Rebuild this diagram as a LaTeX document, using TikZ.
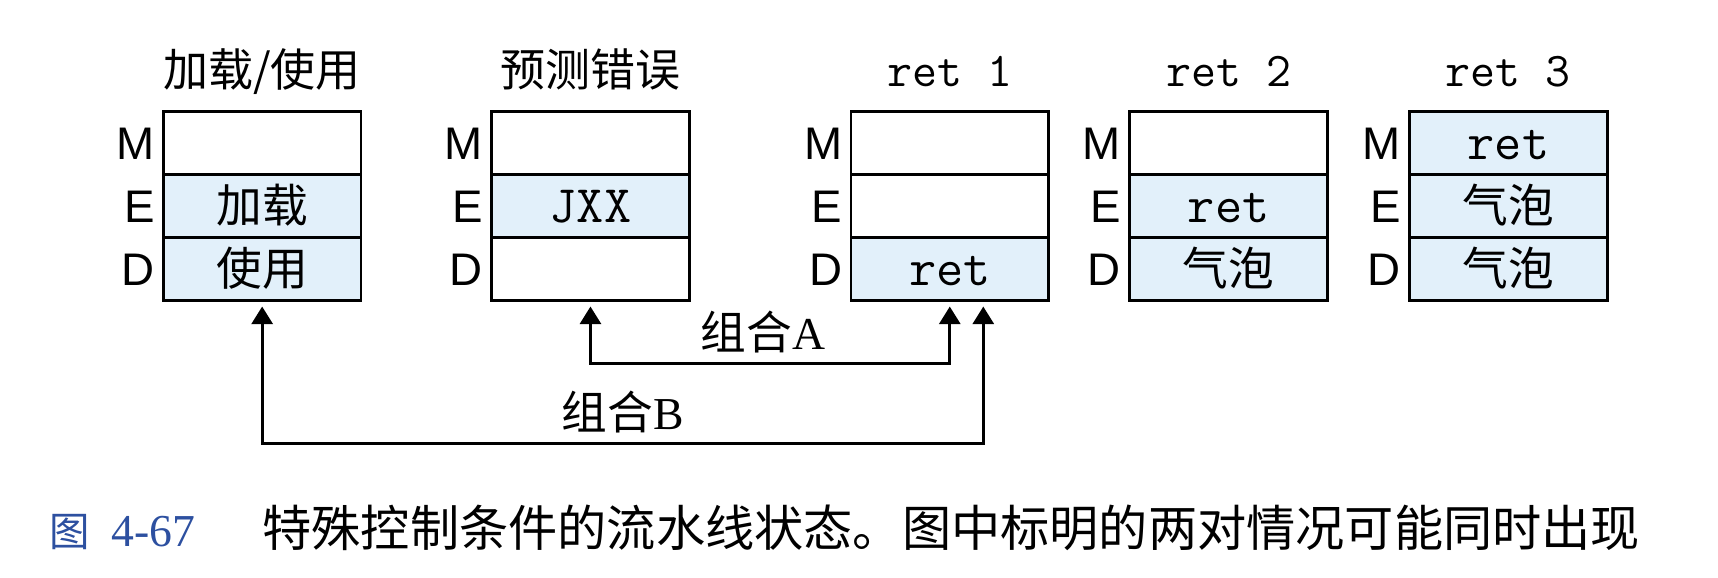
\documentclass[tikz,border=0pt]{standalone}
\usepackage{fontspec}
\setmainfont{Liberation Serif}
\newfontfamily\cjk{Noto Sans CJK SC}
\newfontfamily\sflbl{Liberation Sans}
\usetikzlibrary{shapes.multipart,arrows.meta,positioning}
\definecolor{mylightblue}{RGB}{226,240,250}
\definecolor{mycapblue}{RGB}{45,80,160}
\newcommand{\rowstrut}{\rule[-3.8pt]{0pt}{17.1pt}}
\newcommand{\instr}[1]{{\ttfamily\fontsize{15}{17}\selectfont #1}}
\newcommand{\instrtitle}[1]{{\ttfamily\fontsize{13.8}{16}\selectfont #1}}

\begin{document}
\begin{tikzpicture}[
  thick,
  >={Triangle[length=5pt,width=6pt]},
  mystage/.style={
    draw,
    rectangle split,
    rectangle split parts=3,
    rectangle split part fill={#1},
    text width=1.975cm,
    align=center,
    inner xsep=0pt,
    inner ysep=0pt,
    font=\cjk\fontsize{13}{15}\selectfont
    },
  mytitle/.style={font=\cjk\fontsize{12.8}{15}\selectfont, inner sep=0pt, anchor=base},
  mylabel/.style={font=\sflbl\fontsize{13}{15}\selectfont, inner sep=0pt, anchor=base east},
  mycombo/.style={<->},
  mycombolabel/.style={font=\cjk\fontsize{13}{15}\selectfont, inner sep=0pt, above=0.09cm}
]
\useasboundingbox (0,0) rectangle (17.18,-5.78);

\node[mystage={white,mylightblue,mylightblue}, anchor=north west] (ldu) at (1.62,-1.10)
  {
                \rowstrut
  \nodepart{two}   \rowstrut 加载
  \nodepart{three} \rowstrut 使用
  };
\node[mystage={white,mylightblue,white}, right=1.28cm of ldu] (mis)
  {
                \rowstrut
  \nodepart{two}   \rowstrut\instr{JXX}
  \nodepart{three} \rowstrut
  };
\node[mystage={white,white,mylightblue}, right=1.59cm of mis] (ret1)
  {
                \rowstrut
  \nodepart{two}   \rowstrut
  \nodepart{three} \rowstrut\instr{ret}
  };
\node[mystage={white,mylightblue,mylightblue}, right=0.785cm of ret1] (ret2)
  {
                \rowstrut
  \nodepart{two}   \rowstrut\instr{ret}
  \nodepart{three} \rowstrut 气泡
  };
\node[mystage={mylightblue,mylightblue,mylightblue}, right=0.795cm of ret2] (ret3)
  {
                \rowstrut\instr{ret}
  \nodepart{two}   \rowstrut 气泡
  \nodepart{three} \rowstrut 气泡
  };

\foreach \bx/\ttl in {ldu/{加载/使用}, mis/预测错误, ret1/\instrtitle{ret 1}, ret2/\instrtitle{ret 2}, ret3/\instrtitle{ret 3}}
  \node[mytitle] at ([yshift=0.23cm]\bx.north) {\ttl};
\foreach \bx in {ldu,mis,ret1,ret2,ret3}
  \foreach \pt/\lbl in {text/M,two/E,three/D}
    \node[mylabel] at ([xshift=-0.075cm]\bx.\pt) {\lbl};

\draw[mycombo] ([yshift=-0.05cm]mis.south) -- ++(0,-0.57)
  -| node[mycombolabel, pos=0.24] {组合{\rmfamily A}} ([yshift=-0.05cm]ret1.south);
\draw[mycombo] ([yshift=-0.05cm]ldu.south) -- ++(0,-1.37)
  -| node[mycombolabel, pos=0.25] {组合{\rmfamily B}} ([xshift=0.335cm,yshift=-0.05cm]ret1.south);

\node[font=\fontsize{13}{15}\selectfont, text=mycapblue, inner sep=0pt, anchor=base west] (fignum) at (0.48,-5.466)
  {{\cjk\fontsize{11.5}{14}\selectfont 图}\hspace{0.22cm}4-67};
\node[font=\cjk\fontsize{14}{16}\selectfont, inner sep=0pt, base right=0.64cm of fignum] (figtext)
  {特殊控制条件的流水线状态。图中标明的两对情况可能同时出现};

\end{tikzpicture}
\end{document}
